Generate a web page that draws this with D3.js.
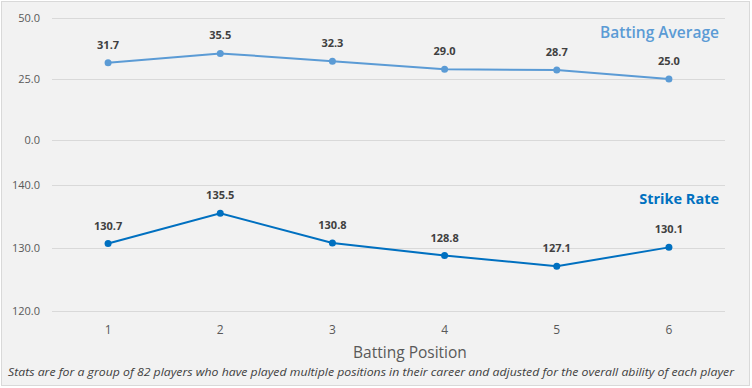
<!DOCTYPE html>
<html>
<head>
<meta charset="utf-8">
<script src="https://cdn.jsdelivr.net/npm/d3@7"></script>
<style>
  body { margin: 0; background: #fff; }
  text { font-family: "Open Sans", sans-serif; }
</style>
</head>
<body>
<div id="container"></div>
<script>
let positions = [1, 2, 3, 4, 5, 6];
let battingAverage = [31.7, 35.5, 32.3, 29.0, 28.7, 25.0];
let strikeRate = [130.7, 135.5, 130.8, 128.8, 127.1, 130.1];
let avgTicks = [0, 25, 50];
let srTicks = [120, 130, 140];

let w = 752;
let h = 388;
let plotLeft = 52, plotRight = 725;

let svg = d3.select('#container')
  .append('svg')
    .attr('width', w)
    .attr('height', h);

// background + frame
svg.append('rect')
  .attr('x', 1.5).attr('y', 1.5)
  .attr('width', w - 4).attr('height', h - 4)
  .attr('fill', '#f2f2f2')
  .attr('stroke', '#d9d9d9')
  .attr('stroke-width', 1);

let x = d3.scalePoint()
  .domain(positions)
  .range([plotLeft, plotRight])
  .padding(0.5);

let yAvg = d3.scaleLinear().domain([0, 50]).range([140, 18]);
let ySr = d3.scaleLinear().domain([120, 140]).range([311, 185]);

function drawPanel(y, ticks, values, color, label, labelY, labelWeight, labelSize) {
  let g = svg.append('g');

  // gridlines
  g.selectAll('.grid').data(ticks).enter()
    .append('line')
    .attr('x1', plotLeft).attr('x2', plotRight)
    .attr('y1', d => Math.round(y(d)) + 0.5)
    .attr('y2', d => Math.round(y(d)) + 0.5)
    .attr('stroke', '#d9d9d9')
    .attr('stroke-width', 1);

  // tick labels
  g.selectAll('.tick').data(ticks).enter()
    .append('text')
    .attr('x', 40)
    .attr('y', d => y(d) + 4)
    .attr('text-anchor', 'end')
    .attr('font-size', 11)
    .attr('fill', '#595959')
    .text(d => d.toFixed(1));

  let line = d3.line()
    .x((d, i) => x(positions[i]))
    .y(d => y(d));

  g.append('path')
    .datum(values)
    .attr('d', line)
    .attr('fill', 'none')
    .attr('stroke', color)
    .attr('stroke-width', 2);

  g.selectAll('.pt').data(values).enter()
    .append('circle')
    .attr('cx', (d, i) => x(positions[i]))
    .attr('cy', d => y(d))
    .attr('r', 3.5)
    .attr('fill', color);

  g.selectAll('.lbl').data(values).enter()
    .append('text')
    .attr('x', (d, i) => x(positions[i]))
    .attr('y', d => y(d) - 14)
    .attr('text-anchor', 'middle')
    .attr('font-size', 11)
    .attr('font-weight', 'bold')
    .attr('fill', '#404040')
    .text(d => d.toFixed(1));

  g.append('text')
    .attr('x', 719)
    .attr('y', labelY)
    .attr('text-anchor', 'end')
    .attr('font-size', labelSize)
    .attr('font-weight', labelWeight)
    .attr('fill', color)
    .text(label);
}

drawPanel(yAvg, avgTicks, battingAverage, '#5b9bd5', 'Batting Average', 38, 600, 15.5);
drawPanel(ySr, srTicks, strikeRate, '#0070c0', 'Strike Rate', 204, 'bold', 14.5);

// x axis labels
svg.selectAll('.xlbl').data(positions).enter()
  .append('text')
  .attr('x', d => x(d))
  .attr('y', 334)
  .attr('text-anchor', 'middle')
  .attr('font-size', 12)
  .attr('fill', '#595959')
  .text(d => d);

svg.append('text')
  .attr('x', 410)
  .attr('y', 358)
  .attr('text-anchor', 'middle')
  .attr('font-size', 15.5)
  .attr('fill', '#595959')
  .text('Batting Position');

svg.append('text')
  .attr('x', 371)
  .attr('y', 376)
  .attr('text-anchor', 'middle')
  .attr('font-size', 11.5)
  .attr('font-style', 'italic')
  .attr('fill', '#404040')
  .attr('textLength', 726)
  .attr('lengthAdjust', 'spacingAndGlyphs')
  .text('Stats are for a group of 82 players who have played multiple positions in their career and adjusted for the overall ability of each player');
</script>
</body>
</html>
